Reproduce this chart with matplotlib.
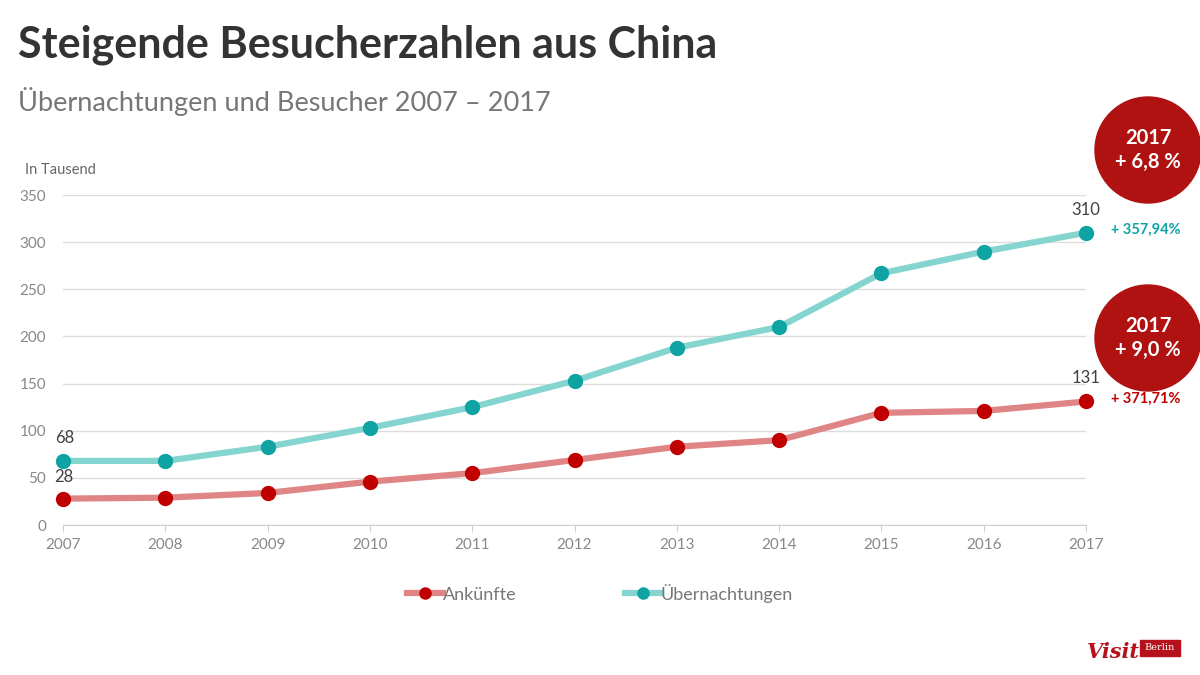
import matplotlib.pyplot as plt
from matplotlib.patches import Ellipse, Rectangle

plt.rcParams['font.family'] = ['Lato', 'DejaVu Sans']

years = [2007, 2008, 2009, 2010, 2011, 2012, 2013, 2014, 2015, 2016, 2017]
ankuenfte = [28, 29, 34, 46, 55, 69, 83, 90, 119, 121, 131]
uebernachtungen = [68, 68, 83, 103, 125, 153, 188, 210, 267, 290, 310]
y_ticks = [0, 50, 100, 150, 200, 250, 300, 350]

# Farben
teal_line = '#84D4CF'
teal_dot = '#0FA3A3'
red_line = '#E08585'
red_dot = '#C00000'
circle_red = '#B01111'
grey_txt = '#888888'

fig = plt.figure(figsize=(12, 6.75), dpi=100)
ax = fig.add_axes([0.0525, 0.2222, 0.8525, 0.4889])

ax.plot(years, ankuenfte, color=red_line, lw=4.5, marker='o', ms=10,
        mfc=red_dot, mec=red_dot, clip_on=False, zorder=3, label='Ankünfte')
ax.plot(years, uebernachtungen, color=teal_line, lw=4.5, marker='o', ms=10,
        mfc=teal_dot, mec=teal_dot, clip_on=False, zorder=3, label='Übernachtungen')

ax.set_xlim(years[0], years[-1])
ax.set_ylim(0, 350)
ax.set_yticks(y_ticks)
ax.set_xticks(years)
ax.grid(axis='y', color='#DDDDDD', lw=1)
ax.set_axisbelow(True)
for s in ['top', 'right', 'left']:
    ax.spines[s].set_visible(False)
ax.spines['bottom'].set_color('#D0D0D0')
ax.tick_params(axis='y', length=0, labelsize=11, labelcolor=grey_txt, pad=12)
ax.tick_params(axis='x', length=5, color='#D0D0D0', labelsize=11, labelcolor=grey_txt, pad=4)

# Datenbeschriftungen
ax.annotate(str(uebernachtungen[0]), (years[0], uebernachtungen[0]), xytext=(-6, 13),
            textcoords='offset points', fontsize=12, color='#404040')
ax.annotate(str(ankuenfte[0]), (years[0], ankuenfte[0]), xytext=(-6, 12),
            textcoords='offset points', fontsize=12, color='#404040')
ax.annotate(str(uebernachtungen[-1]), (years[-1], uebernachtungen[-1]), xytext=(0, 13),
            textcoords='offset points', fontsize=12, color='#404040', ha='center')
ax.annotate(str(ankuenfte[-1]), (years[-1], ankuenfte[-1]), xytext=(0, 13),
            textcoords='offset points', fontsize=12, color='#404040', ha='center')
ax.annotate('+ 357,94%', (years[-1], uebernachtungen[-1]), xytext=(18, 2),
            textcoords='offset points', fontsize=10.5, color=teal_dot,
            fontweight='bold', va='center', annotation_clip=False)
ax.annotate('+ 371,71%', (years[-1], ankuenfte[-1]), xytext=(18, 2),
            textcoords='offset points', fontsize=10.5, color=red_dot,
            fontweight='bold', va='center', annotation_clip=False)

# Titel
fig.text(0.015, 0.933, 'Steigende Besucherzahlen aus China', fontsize=31,
         fontweight='bold', color='#333333', va='center')
fig.text(0.015, 0.85, 'Übernachtungen und Besucher 2007 – 2017', fontsize=19.5,
         color='#777777', va='center')
fig.text(0.021, 0.748, 'In Tausend', fontsize=10.5, color='#666666', va='center')

# Kreise rechts
for cy, txt in [(150, '2017\n+ 6,8 %'), (338, '2017\n+ 9,0 %')]:
    fy = 1 - cy / 675
    fig.patches.append(Ellipse((1148 / 1200, fy), 106 / 1200, 106 / 675,
                               transform=fig.transFigure, color=circle_red))
    fig.text(1148 / 1200, fy, txt, ha='center', va='center', color='white',
             fontsize=14.5, fontweight='bold', linespacing=1.3)

# Legende
fig.legend(loc='center', bbox_to_anchor=(0.5, 0.121), ncol=2, frameon=False,
           fontsize=13, handlelength=2.0, handletextpad=0.0, columnspacing=6,
           markerscale=0.8, labelcolor='#777777')

# Logo
fig.text(1087 / 1200, 1 - 662 / 675, 'Visit', fontsize=15, fontstyle='italic',
         fontweight='bold', color='#B5121B', family='DejaVu Serif', va='bottom')
fig.patches.append(Rectangle((1140 / 1200, 1 - 656 / 675), 40 / 1200, 16 / 675,
                             transform=fig.transFigure, color='#B5121B'))
fig.text(1160 / 1200, 1 - 648 / 675, 'Berlin', fontsize=7, color='white',
         ha='center', va='center', family='DejaVu Serif')

fig.savefig('out.png', dpi=100)
